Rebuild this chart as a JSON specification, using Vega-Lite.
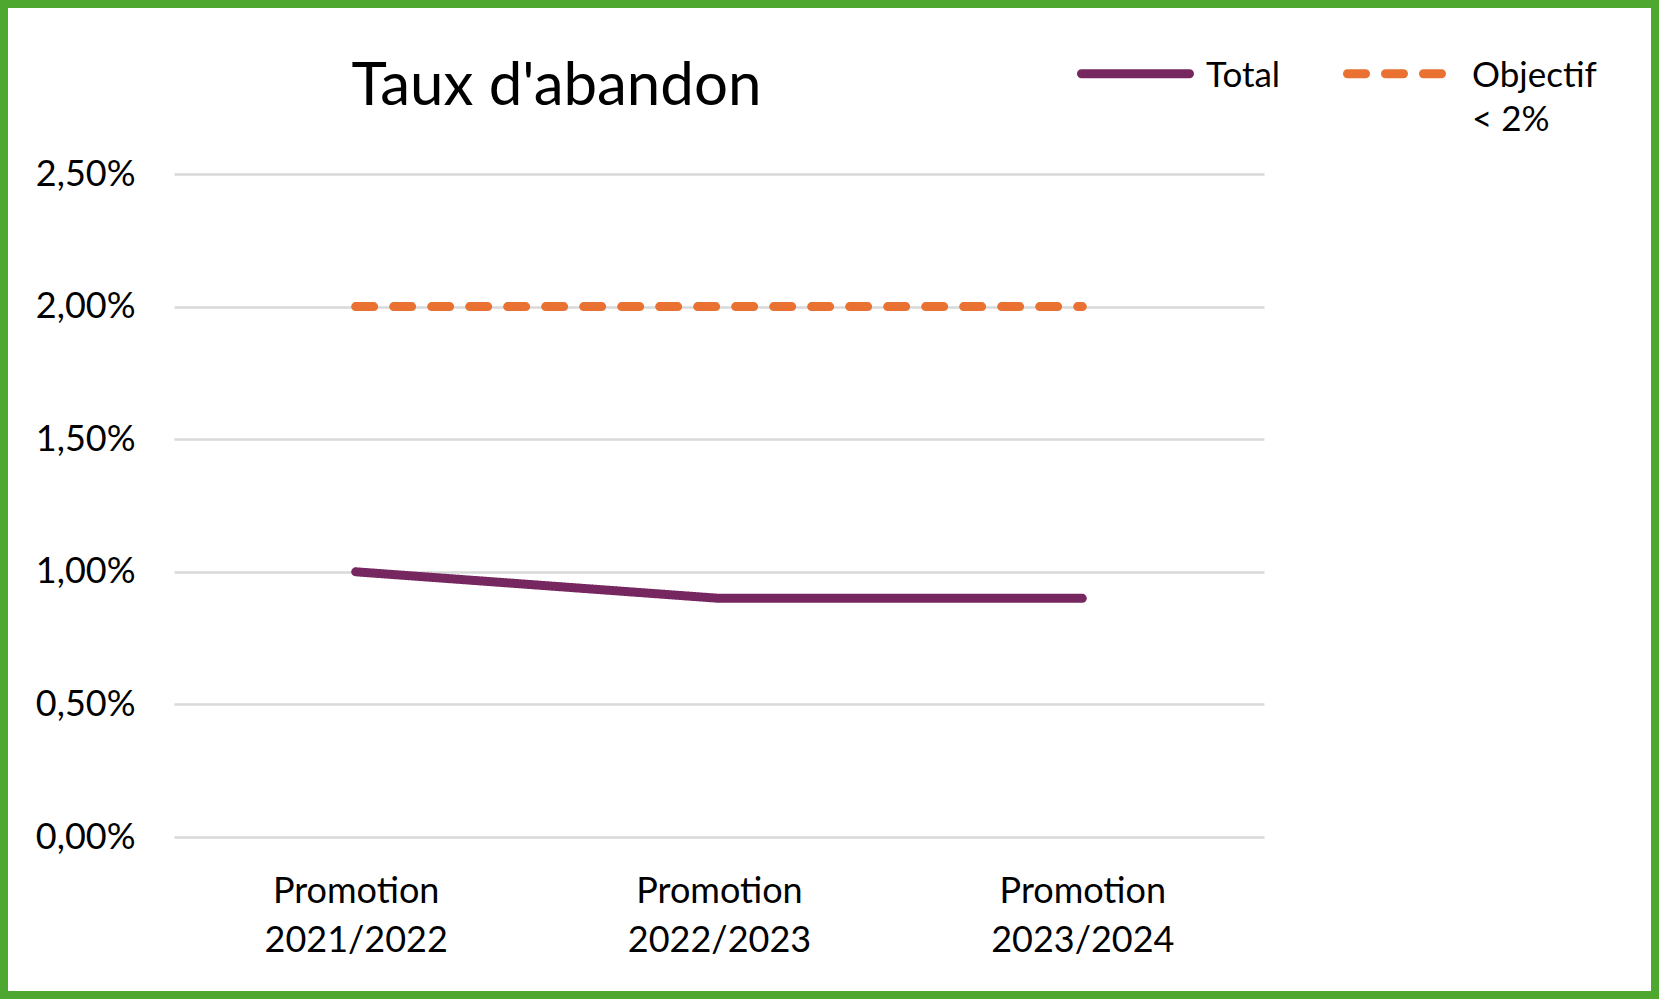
{
  "$schema": "https://vega.github.io/schema/vega-lite/v6.json",
  "width": 1659,
  "height": 999,
  "autosize": {"type": "none"},
  "padding": 0,
  "background": "white",
  "title": {
    "text": "Taux d'abandon",
    "anchor": "middle",
    "dx": -273,
    "offset": -165,
    "baseline": "alphabetic",
    "font": "Lato",
    "fontSize": 60,
    "fontWeight": "normal",
    "color": "black"
  },
  "data": {
    "values": [
      {"promo": "Promotion 2021/2022", "serie": "Total", "taux": 0.010},
      {"promo": "Promotion 2022/2023", "serie": "Total", "taux": 0.009},
      {"promo": "Promotion 2023/2024", "serie": "Total", "taux": 0.009},
      {"promo": "Promotion 2021/2022", "serie": "Objectif < 2%", "taux": 0.020},
      {"promo": "Promotion 2022/2023", "serie": "Objectif < 2%", "taux": 0.020},
      {"promo": "Promotion 2023/2024", "serie": "Objectif < 2%", "taux": 0.020}
    ]
  },
  "mark": {"type": "line", "strokeWidth": 9, "strokeCap": "round", "strokeJoin": "round"},
  "encoding": {
    "x": {
      "field": "promo",
      "type": "ordinal",
      "sort": ["Promotion 2021/2022", "Promotion 2022/2023", "Promotion 2023/2024"],
      "scale": {"type": "point", "range": [174, 1264], "padding": 0.5},
      "axis": {
        "title": null,
        "orient": "bottom",
        "offset": -162,
        "domain": false,
        "ticks": false,
        "tickSize": 0,
        "grid": false,
        "labelAngle": 0,
        "labelPadding": 37,
        "labelFont": "Lato",
        "labelFontSize": 36,
        "labelColor": "black",
        "labelLimit": 500,
        "labelLineHeight": 49,
        "labelExpr": "split(datum.label, ' ')"
      }
    },
    "y": {
      "field": "taux",
      "type": "quantitative",
      "scale": {"domain": [0, 0.025], "range": [837, 174], "nice": false, "zero": true},
      "axis": {
        "title": null,
        "orient": "left",
        "offset": -150,
        "domain": false,
        "ticks": false,
        "tickSize": 0,
        "labelPadding": 15,
        "values": [0, 0.005, 0.01, 0.015, 0.02, 0.025],
        "labelExpr": "replace(format(datum.value, '.2%'), '.', ',')",
        "labelFont": "Lato",
        "labelFontSize": 36,
        "labelColor": "black",
        "grid": true,
        "gridColor": "#D9D9D9",
        "gridWidth": 2.5
      }
    },
    "color": {
      "field": "serie",
      "type": "nominal",
      "scale": {"domain": ["Total", "Objectif < 2%"], "range": ["#77275F", "#E97132"]},
      "legend": {
        "title": null,
        "orient": "none",
        "legendX": 1077,
        "legendY": 15,
        "direction": "horizontal",
        "columns": 2,
        "columnPadding": 48,
        "padding": 0,
        "symbolType": "stroke",
        "symbolSize": 11664,
        "symbolStrokeWidth": 9,
        "labelOffset": 12,
        "labelFont": "Lato",
        "labelFontSize": 35,
        "labelColor": "black",
        "labelLimit": 400,
        "labelBaseline": "alphabetic",
        "labelExpr": "datum.label == 'Objectif < 2%' ? ['Objectif', '< 2%'] : [datum.label, ' ']",
        "encode": {
          "labels": {"update": {"dy": {"value": 13}, "lineHeight": {"value": 44}}},
          "symbols": {"update": {"strokeCap": {"value": "round"}}}
        }
      }
    },
    "strokeDash": {
      "field": "serie",
      "type": "nominal",
      "scale": {"domain": ["Total", "Objectif < 2%"], "range": [[1, 0], [18, 20]]},
      "legend": null
    }
  },
  "config": {
    "view": {"stroke": "#4EA72E", "strokeWidth": 16, "fill": "white", "cornerRadius": 4},
    "font": "Lato"
  }
}
